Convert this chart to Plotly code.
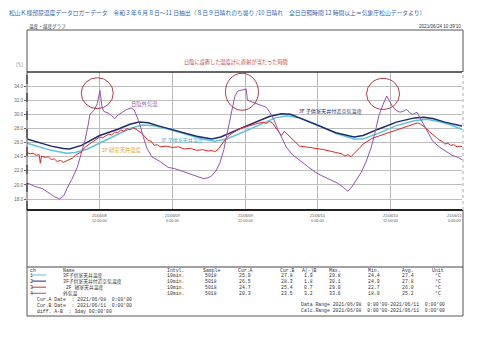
import plotly.graph_objects as go

# ---------------- data ----------------
title_text = ("松山Ｋ様部屋温度データロガーデータ　令和３年６月８日～11 日抽出（８日９日晴れのち曇り /10 日晴れ　"
              "全日日照時間 12 時間以上＝気象庁松山データより）")

# ch1 3F子供室天井温度 (light blue)
t_ch1 = [0, 2, 4, 6.5, 8, 10, 12, 15, 17, 19, 21, 23, 26, 29, 31, 33, 36, 39, 41, 43, 45, 48, 51, 54,
         55.5, 58, 61, 64, 66, 68, 70, 72]
v_ch1 = [25.9, 25.4, 24.9, 24.5, 24.6, 25.1, 25.9, 27.2, 28.0, 28.5, 28.4, 28.0, 27.2, 26.5, 26.2, 26.5,
         27.6, 28.8, 29.5, 29.8, 29.5, 28.5, 27.3, 26.5, 26.5, 27.3, 28.4, 29.1, 29.3, 29.0, 28.5, 27.8]

# ch2 3F子供室天井付近空気温度 (navy)
t_ch2 = [0, 2, 4, 6, 7, 9, 12, 15, 17, 18.5, 20, 22, 25, 28, 30.5, 32, 35, 38, 40, 42, 43.5, 45, 48, 51,
         54, 55.5, 58, 61, 64, 65.5, 67, 69, 72]
v_ch2 = [26.5, 26.0, 25.5, 25.15, 25.1, 25.6, 27.0, 27.9, 28.6, 28.9, 28.8, 28.3, 27.6, 26.9, 26.5, 26.8,
         27.9, 29.0, 29.7, 30.1, 30.0, 29.5, 28.4, 27.4, 26.8, 27.0, 27.9, 28.9, 29.5, 29.6, 29.4, 28.9, 28.3]

# ch3 2F 寝室天井温度 (red)
t_ch3 = [0, 0.5, 1.0, 1.5, 2.0, 2.2, 2.4, 3.0, 3.5, 4.0, 4.5, 5.0, 5.5, 6.0, 6.5, 7.0, 7.5, 8.0, 8.5, 9.0,
         9.5, 10.0, 10.5, 11.0, 11.5, 12.0, 12.5, 13.0, 13.5, 14.0, 14.5, 15.0, 15.5, 16.0, 16.5, 17.0, 17.5,
         18.0, 18.5, 19.0, 19.5, 20.0, 20.5, 21.0, 21.5, 22.0, 23, 24, 25, 26, 27, 28, 29, 30, 30.5, 31, 31.5,
         32, 32.5, 33, 33.5, 34, 35, 36, 37, 38, 39, 39.5, 40, 40.5, 41, 41.5, 42, 42.5, 43.5, 44.5, 45, 46,
         47, 48, 49, 50, 51, 52, 52.5, 53, 53.5, 54, 54.5, 55, 55.5, 56.5, 57, 58, 59, 60, 61, 62, 63, 64,
         64.5, 65, 65.5, 66, 66.5, 67, 67.5, 68, 68.5, 69, 69.5, 70, 70.5, 71, 71.5, 72]
v_ch3 = [24.6, 24.4, 24.5, 24.2, 24.3, 23.1, 24.1, 23.9, 24.0, 23.6, 23.7, 23.3, 23.5, 23.2, 23.4, 23.6,
         23.8, 24.2, 24.4, 24.7, 25.3, 25.6, 25.9, 26.2, 26.4, 26.8, 26.7, 27.0, 27.2, 27.1, 27.5, 27.4,
         27.8, 27.6, 28.0, 27.8, 28.1, 27.9, 27.6, 27.3, 26.8, 26.3, 26.2, 25.6, 25.7, 25.4, 25.5, 25.3,
         25.4, 25.1, 25.2, 24.9, 25.0, 24.8, 24.9, 24.7, 25.0, 25.6, 26.2, 26.7, 27.1, 27.4, 27.9, 28.2,
         28.5, 28.7, 28.9, 28.7, 29.0, 28.8, 28.2, 27.6, 27.0, 27.6, 26.7, 25.9, 25.5, 25.4, 25.3, 25.2,
         25.0, 24.8, 24.6, 24.4, 24.1, 24.3, 24.0, 24.4, 24.8, 25.3, 25.8, 26.4, 26.6, 26.9, 27.2, 27.5,
         27.8, 28.1, 28.4, 28.6, 28.8, 28.6, 28.3, 28.0, 27.5, 27.2, 26.8, 26.4, 26.2, 25.8, 25.9, 25.6,
         25.7, 25.4, 25.5, 25.4]

# ch4 外気温 (purple)
t_ch4 = [0, 1.3, 2.5, 3.8, 4.6, 5.4, 6.1, 6.6, 7.4, 8.3, 9.1, 9.6, 10.1, 10.4, 11.1, 11.6, 12.05, 12.4,
         12.7, 13.4, 14.0, 14.5, 15.0, 15.7, 16.5, 17.2, 17.7, 18.2, 18.7, 19.2, 19.8, 20.6, 22.0, 23.3,
         24.4, 25.8, 26.9, 28.1, 29.1, 29.9, 30.5, 31.2, 31.9, 32.5, 33.2, 33.7, 34.3, 34.8, 35.5, 36.2,
         36.4, 37.0, 37.8, 38.8, 39.5, 40.1, 40.8, 41.4, 42.1, 42.8, 43.8, 45.1, 46.4, 47.6, 48.7, 50.0,
         51.4, 52.3, 53.0, 53.7, 54.3, 55.2, 56.0, 56.8, 57.5, 58.1, 58.8, 59.4, 59.8, 60.3, 60.9, 61.6,
         62.3, 62.7, 63.2, 63.7, 64.4, 64.9, 65.6, 66.2, 67.0, 68.2, 69.2, 70.2, 71.2, 72]
v_ch4 = [20.3, 19.8, 19.5, 18.8, 18.3, 18.0, 18.5, 19.5, 20.8, 22.5, 25.0, 26.4, 28.5, 30.0, 30.6, 31.5,
         33.4, 31.0, 30.4, 30.2, 29.8, 29.4, 29.9, 30.3, 30.7, 30.9, 30.6, 29.6, 28.4, 26.8, 25.2, 24.0,
         23.3, 22.5, 22.3, 21.9, 21.6, 21.2, 20.9, 21.0, 21.3, 22.0, 23.2, 25.0, 27.8, 30.0, 32.5, 33.3,
         33.4, 33.6, 32.0, 31.8, 31.6, 31.3, 31.0, 30.3, 29.2, 27.9, 26.6, 25.4, 24.3, 23.4, 22.6, 21.8,
         21.3, 20.8, 20.2, 19.6, 19.1, 19.8, 20.6, 21.8, 23.3, 25.2, 27.5, 29.8, 31.4, 32.6, 32.0, 31.2,
         30.6, 30.3, 30.5, 30.7, 30.2, 30.0, 30.3, 29.5, 28.4, 27.4, 26.2, 25.3, 24.7, 24.2, 23.9, 23.5]

y_ticks = [18, 20, 22, 24, 26, 28, 30, 32, 34]
x_ticks = [12, 24, 36, 48, 60, 72]
x_tick_labels = ["21/06/08<br>12:00:00", "21/06/09<br>0:00:00", "21/06/09<br>12:00:00",
                 "21/06/10<br>0:00:00", "21/06/10<br>12:00:00", "21/06/11<br>0:00:00"]

# circled peaks (hours, °C)
circle_t = [11.6, 35.5, 58.8]
circle_v = [33.0, 33.2, 32.9]

# table
ch_names = ["3F子供室天井温度", "3F子供室天井付近空気温度", " 2F 寝室天井温度", "外気温"]
intervals = ["10min.", "10min.", "10min.", "10min."]
samples = ["5018", "5018", "5018", "5018"]
cur_a = ["25.9", "26.5", "24.7", "20.3"]
cur_b = ["27.8", "28.3", "25.4", "23.5"]
a_minus_b = ["1.9", "1.8", "0.7", "3.2"]
max_v = ["29.8", "30.1", "29.0", "33.6"]
min_v = ["24.4", "24.9", "22.7", "18.0"]
avg_v = ["27.4", "27.8", "26.0", "25.2"]
units = ["°C", "°C", "°C", "°C"]

# ---------------- figure ----------------
W, H = 480, 339
C1, C2, C3, C4 = "#5cc3dc", "#1c2c6c", "#e8221c", "#9552b4"
colors = [C1, C2, C3, C4]
MONO = "Liberation Mono, Noto Sans CJK JP, monospace"
CJK = "Noto Sans CJK JP, sans-serif"


def px(x):
    return x / W


def py(y):
    return 1 - y / H


fig = go.Figure()
fig.add_trace(go.Scatter(x=t_ch1, y=v_ch1, mode="lines", line=dict(color=C1, width=1.5)))
fig.add_trace(go.Scatter(x=t_ch2, y=v_ch2, mode="lines", line=dict(color=C2, width=1.5)))
fig.add_trace(go.Scatter(x=t_ch3, y=v_ch3, mode="lines", line=dict(color=C3, width=1.0)))
fig.add_trace(go.Scatter(x=t_ch4, y=v_ch4, mode="lines", line=dict(color=C4, width=1.0)))

X0, X1 = 27, 463
YT, YB = 72, 210

fig.update_layout(
    width=W, height=H, margin=dict(l=0, r=0, t=0, b=0),
    paper_bgcolor="white", plot_bgcolor="white", showlegend=False,
    xaxis=dict(domain=[px(X0), px(X1)], range=[0, 72], tickvals=x_ticks, showticklabels=False,
               showgrid=True, gridcolor="#b9b9b9", gridwidth=1, zeroline=False, showline=False),
    yaxis=dict(domain=[py(YB), py(YT)], range=[16.45, 36], tickvals=y_ticks, tickformat=".1f",
               showgrid=True, gridcolor="#bdbdbd", gridwidth=1.2, zeroline=False, showline=False,
               ticks="outside", ticklen=2, tickcolor="#666",
               tickfont=dict(size=4.5, color="#666", family="Liberation Sans")),
)

shapes = []
# outer frame
shapes.append(dict(type="rect", xref="paper", yref="paper", x0=px(X0), x1=px(X1), y0=py(316), y1=py(30),
                   line=dict(color="#555", width=1)))
# top border of plot (36 °C line)
shapes.append(dict(type="line", xref="paper", yref="paper", x0=px(X0), x1=px(X1), y0=py(YT), y1=py(YT),
                   line=dict(color="#333", width=1.6)))
# x axis thick line
shapes.append(dict(type="line", xref="paper", yref="paper", x0=px(X0), x1=px(X1), y0=py(YB), y1=py(YB),
                   line=dict(color="#222", width=2)))
# dashed y axis
shapes.append(dict(type="line", xref="paper", yref="paper", x0=px(X0), x1=px(X0), y0=py(YB), y1=py(YT),
                   line=dict(color="#222", width=1, dash="dash")))
# right dotted
shapes.append(dict(type="line", xref="paper", yref="paper", x0=px(X1), x1=px(X1), y0=py(YB), y1=py(YT),
                   line=dict(color="#fff", width=2)))
shapes.append(dict(type="line", xref="paper", yref="paper", x0=px(X1), x1=px(X1), y0=py(YB), y1=py(YT),
                   line=dict(color="#aaa", width=1, dash="dot")))
# table header line
shapes.append(dict(type="line", xref="paper", yref="paper", x0=px(X0), x1=px(X1), y0=py(267), y1=py(267),
                   line=dict(color="#444", width=1)))
# circles (anchored to data, sized in pixels)
for ct, cv, (w_, h_) in zip(circle_t, circle_v, [(32, 31), (33, 37), (33, 31)]):
    shapes.append(dict(type="circle", xref="x", yref="y", xsizemode="pixel", ysizemode="pixel",
                       xanchor=ct, yanchor=cv, x0=-w_ / 2, x1=w_ / 2, y0=-h_ / 2, y1=h_ / 2,
                       line=dict(color="#b23a48", width=1)))
# legend sample lines
for i, c in enumerate(colors):
    yy = 275 + i * 6.1
    shapes.append(dict(type="line", xref="paper", yref="paper", x0=px(32), x1=px(46), y0=py(yy), y1=py(yy),
                       line=dict(color=c, width=1)))
fig.update_layout(shapes=shapes)


def txt(x, y, s, size=5, color="#333", anchor="left", family=MONO, yanchor="middle"):
    fig.add_annotation(x=px(x), y=py(y), xref="paper", yref="paper", text=s, showarrow=False,
                       xanchor=anchor, yanchor=yanchor, borderpad=0,
                       font=dict(size=size, color=color, family=family))


# title & header
txt(8, 13, title_text, size=5.8, color="#2f5fb0", family=CJK)
txt(28, 26.5, "温度・湿度グラフ", size=4.6, color="#333", family=CJK)
txt(462, 26.5, "2021/06/24 10:39'10", size=4.6, color="#333", anchor="right", family="Liberation Sans")
txt(24, 64, "[℃]", size=4.3, color="#666", anchor="right", family=CJK)

# x tick labels via data coords
for xv, lab in zip(x_ticks, x_tick_labels):
    fig.add_annotation(x=xv, y=0, xref="x", yref="paper", yshift=(py(YB) * H) - 3,
                       text=lab, showarrow=False, xanchor="right" if xv == 72 else "center", yanchor="top",
                       borderpad=0, font=dict(size=3.8, color="#555", family="Liberation Sans"))

# chart annotations
txt(236, 62, "日陰に設置した温度計に直射が当たった時間", size=5.2, color="#c0403a", anchor="center", family=CJK)
txt(130, 104, "日陰外気温", size=5.3, color=C4, family=CJK)
txt(298, 111, "3F 子供室天井付近空気温度", size=5.1, color=C2, family=CJK)
txt(160, 140, "3F 子供室天井温度", size=5.0, color="#3fb0d0", family=CJK)
txt(101, 150, "2F 寝室天井温度", size=5.3, color="#e2a21e", family=CJK)

# table
hdr = [(29, "ch"), (62, "Name"), (166, "Intvl."), (202, "Sample"), (237, "Cur.A"), (279, "Cur.B"),
       (301, "A(-)B"), (328, "Max."), (367, "Min."), (401, "Avg."), (431, "Unit")]
for x, s in hdr:
    txt(x, 270, s, size=4.8)
for i in range(4):
    yy = 275 + i * 6.1
    txt(28.5, yy, str(i + 1), size=4.8)
    txt(62, yy, ch_names[i], size=4.8)
    txt(166, yy, intervals[i], size=4.8)
    txt(204, yy, samples[i], size=4.8)
    txt(238, yy, cur_a[i], size=4.8)
    txt(280, yy, cur_b[i], size=4.8)
    txt(303, yy, a_minus_b[i], size=4.8)
    txt(328, yy, max_v[i], size=4.8)
    txt(367, yy, min_v[i], size=4.8)
    txt(401, yy, avg_v[i], size=4.8)
    txt(434, yy, units[i], size=4.8)
txt(36, 299.5, "Cur.A Date  : 2021/06/08  0:00'00", size=4.8)
txt(36, 305.3, "Cur.B Date  : 2021/06/11  0:00'00", size=4.8)
txt(36, 311, "diff. A-B  : 3day 00:00'00", size=4.8)
txt(300, 304, "Data Range 2021/06/08  0:00'00-2021/06/11  0:00'00", size=4.8)
txt(300, 310, "Calc.Range 2021/06/08  0:00'00-2021/06/11  0:00'00", size=4.8)

fig.write_html("out.html")
